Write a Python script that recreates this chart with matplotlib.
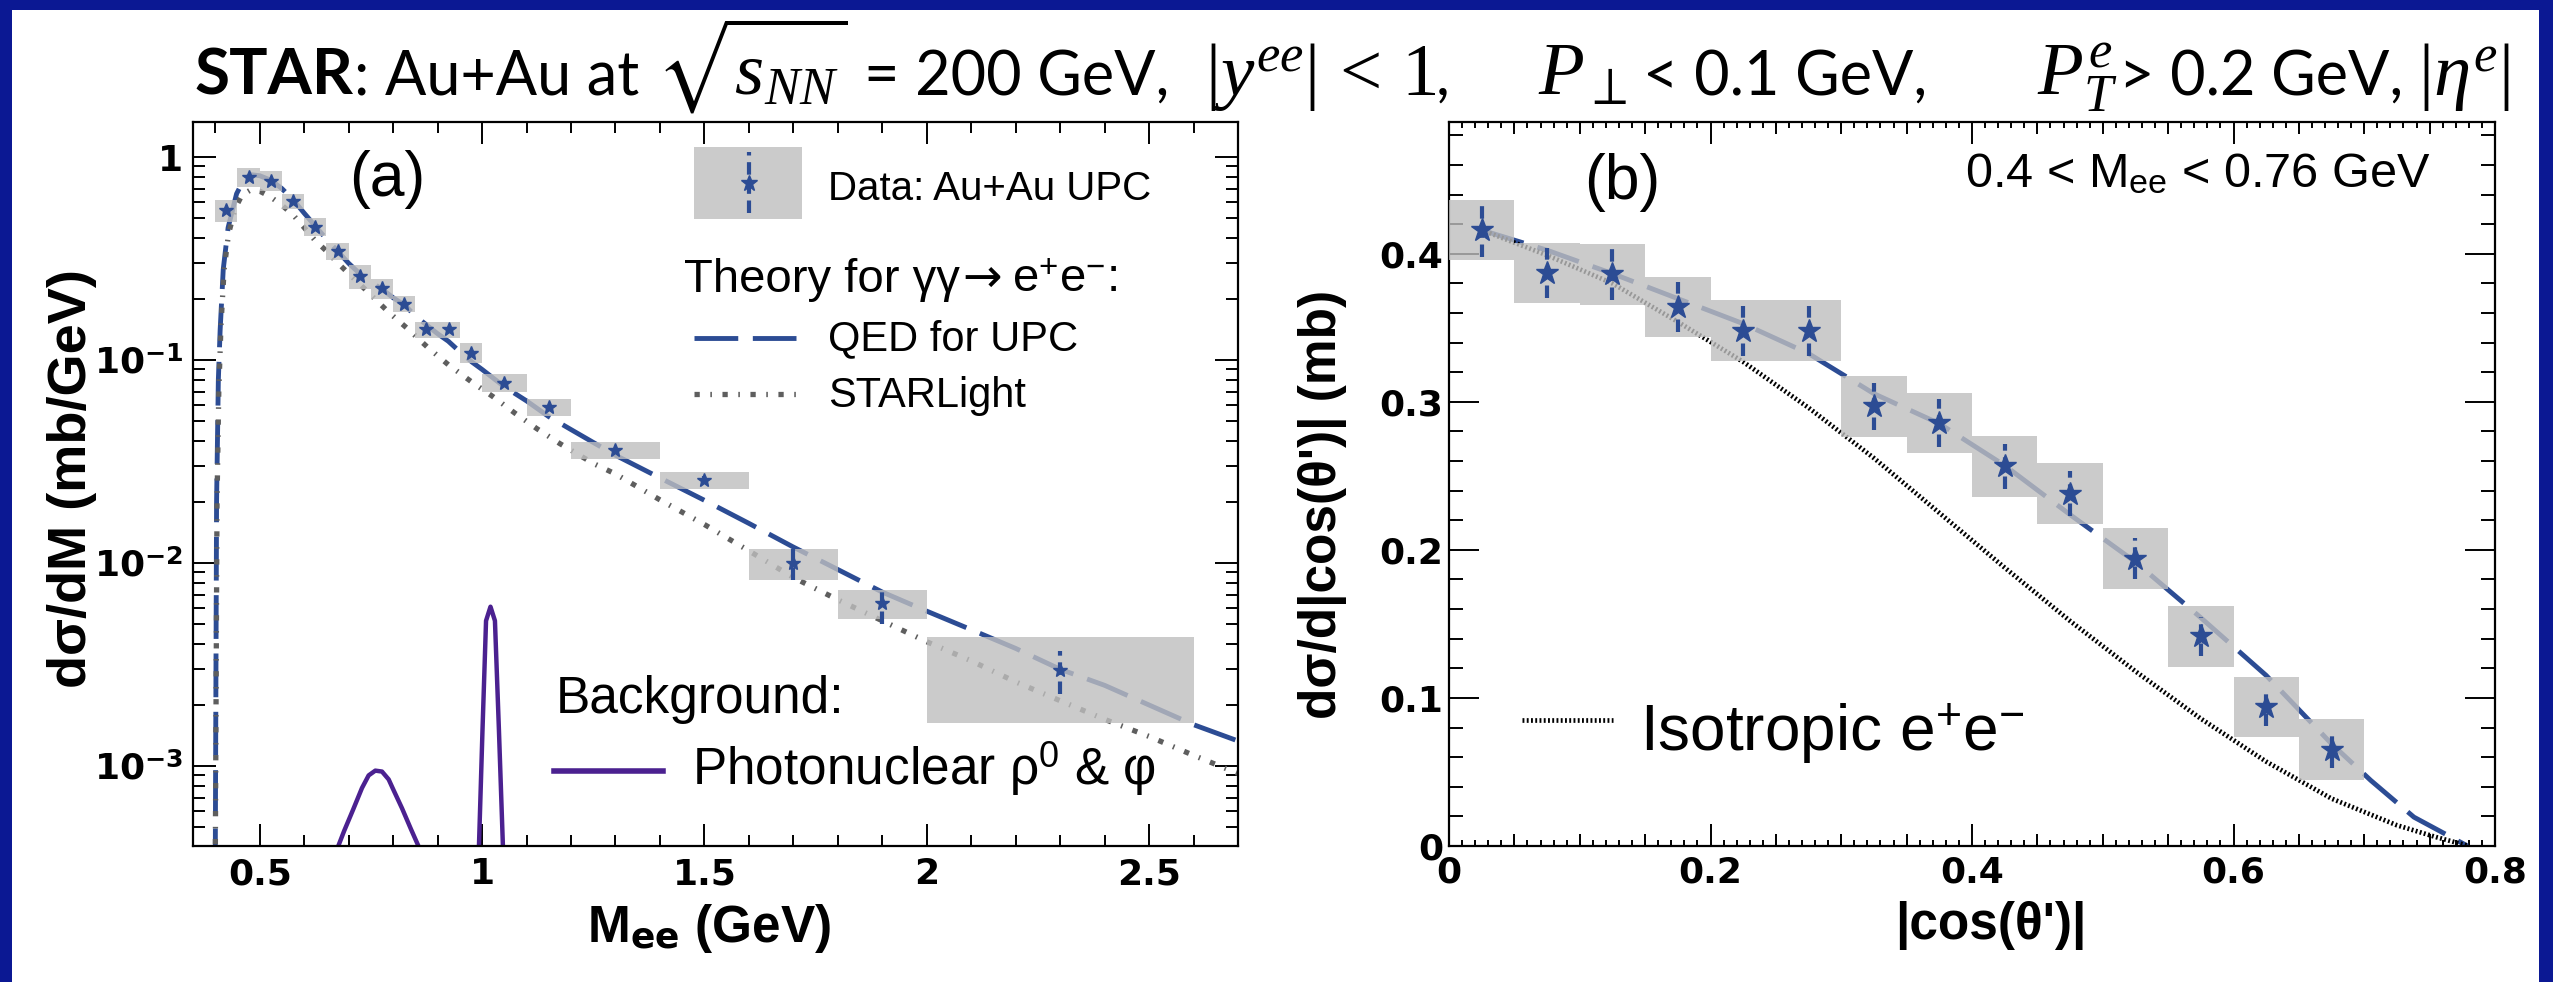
import matplotlib
matplotlib.use("Agg")
import matplotlib.pyplot as plt
from matplotlib.patches import Rectangle
from matplotlib.ticker import MultipleLocator, LogLocator, NullFormatter

plt.rcParams['mathtext.fontset'] = 'custom'
plt.rcParams['mathtext.rm'] = 'Liberation Serif'
plt.rcParams['mathtext.it'] = 'Liberation Serif:italic'
plt.rcParams['mathtext.bf'] = 'DejaVu Sans:bold'
plt.rcParams['mathtext.sf'] = 'Liberation Sans'
plt.rcParams['mathtext.fallback'] = 'stix'

# ---- panel (a): dsigma/dM ----
a_m = [0.425, 0.475, 0.525, 0.575, 0.625, 0.675, 0.725, 0.775, 0.825, 0.875,
       0.925, 0.975, 1.05, 1.15, 1.3, 1.5, 1.7, 1.9, 2.3]
a_val = [0.548, 0.80, 0.764, 0.607, 0.454, 0.346, 0.259, 0.226, 0.190, 0.142,
         0.142, 0.109, 0.0775, 0.0589, 0.0359, 0.0256, 0.0100, 0.00633, 0.00297]
a_bin_lo = [0.40, 0.45, 0.50, 0.55, 0.60, 0.65, 0.70, 0.75, 0.80, 0.85,
            0.90, 0.95, 1.0, 1.1, 1.2, 1.4, 1.6, 1.8, 2.0]
a_bin_hi = [0.45, 0.50, 0.55, 0.60, 0.65, 0.70, 0.75, 0.80, 0.85, 0.90,
            0.95, 1.0, 1.1, 1.2, 1.4, 1.6, 1.8, 2.0, 2.6]
a_sys = [0.069, 0.088, 0.086, 0.051, 0.047, 0.033, 0.035, 0.025, 0.018, 0.013,
         0.013, 0.0125, 0.008, 0.0057, 0.0035, 0.0024, 0.00175, 0.00105, 0.00134]
a_stat = [0.015, 0.02, 0.02, 0.015, 0.012, 0.009, 0.007, 0.006, 0.005, 0.004,
          0.004, 0.003, 0.002, 0.0015, 0.001, 0.0012, 0.0017, 0.0013, 0.0007]

qed_m = [0.400, 0.403, 0.407, 0.411, 0.418, 0.429, 0.448, 0.465, 0.480, 0.50,
         0.525, 0.55, 0.577, 0.60, 0.626, 0.65, 0.675, 0.70, 0.7255, 0.75,
         0.777, 0.80, 0.827, 0.85, 0.877, 0.90, 0.924, 0.95, 0.977, 1.0,
         1.05, 1.1, 1.15, 1.2, 1.3, 1.4, 1.5, 1.6, 1.7, 1.8,
         1.9, 2.0, 2.1, 2.2, 2.3, 2.4, 2.5, 2.6, 2.7]
qed_v = [3.0e-4, 0.02, 0.08, 0.14, 0.28, 0.45, 0.66, 0.78, 0.82, 0.81,
         0.77, 0.70, 0.61, 0.53, 0.455, 0.395, 0.345, 0.30, 0.266, 0.243,
         0.222, 0.203, 0.186, 0.165, 0.148, 0.135, 0.124, 0.110, 0.098, 0.090,
         0.074, 0.063, 0.0527, 0.0455, 0.034, 0.0263, 0.0204, 0.0157, 0.0120, 0.0093,
         0.0072, 0.0058, 0.0047, 0.0038, 0.0030, 0.0025, 0.0020, 0.0016, 0.00133]

sl_m = [0.400, 0.404, 0.408, 0.413, 0.42, 0.43, 0.445, 0.46, 0.48, 0.50,
        0.523, 0.55, 0.5756, 0.60, 0.624, 0.65, 0.673, 0.70, 0.744, 0.789,
        0.834, 0.877, 0.924, 0.977, 1.025, 1.074, 1.123, 1.175, 1.25, 1.3,
        1.4, 1.5, 1.6, 1.7, 1.8, 1.9, 2.0, 2.1, 2.2, 2.3,
        2.4, 2.5, 2.6, 2.7]
sl_v = [3.0e-4, 0.02, 0.07, 0.15, 0.28, 0.42, 0.56, 0.65, 0.69, 0.68,
        0.64, 0.58, 0.518, 0.45, 0.39, 0.345, 0.305, 0.267, 0.216, 0.173,
        0.142, 0.116, 0.095, 0.078, 0.066, 0.0548, 0.046, 0.0388, 0.031, 0.0275,
        0.0205, 0.0155, 0.0115, 0.0085, 0.0066, 0.0052, 0.0041, 0.0033, 0.0026, 0.0021,
        0.0017, 0.0014, 0.00113, 0.00092]

rho_m = [0.67, 0.69, 0.71, 0.73, 0.745, 0.76, 0.775, 0.79, 0.80, 0.82, 0.84, 0.86]
rho_v = [3.7e-4, 4.8e-4, 6.1e-4, 7.8e-4, 9.0e-4, 9.5e-4, 9.4e-4, 8.6e-4, 7.7e-4, 6.2e-4, 4.9e-4, 3.9e-4]
phi_m = [0.990, 0.993, 1.001, 1.009, 1.019, 1.029, 1.038, 1.047, 1.050]
phi_v = [3.0e-4, 4.0e-4, 1.5e-3, 5.2e-3, 6.1e-3, 5.2e-3, 1.5e-3, 4.0e-4, 3.0e-4]

# ---- panel (b): dsigma/d|cos theta'| ----
b_x = [0.025, 0.075, 0.125, 0.175, 0.225, 0.275, 0.325, 0.375, 0.425, 0.475,
       0.525, 0.575, 0.625, 0.675]
b_val = [0.416, 0.387, 0.386, 0.364, 0.348, 0.348, 0.297, 0.2857, 0.2564, 0.238,
         0.194, 0.1416, 0.0938, 0.065]
b_sys = [0.0205] * 14
b_stat = [0.018, 0.017, 0.017, 0.017, 0.017, 0.017, 0.016, 0.016, 0.015, 0.015,
          0.014, 0.013, 0.013, 0.012]

bqed_x = [0.025, 0.075, 0.125, 0.175, 0.225, 0.275, 0.325, 0.375, 0.425, 0.475,
          0.525, 0.575, 0.625, 0.675, 0.705, 0.738, 0.779]
bqed_v = [0.416, 0.4024, 0.3866, 0.3697, 0.3528, 0.3326, 0.3055, 0.2853, 0.257, 0.2238,
          0.1918, 0.1542, 0.1152, 0.069, 0.0443, 0.0195, 0.0]

iso_x = [0.025, 0.075, 0.125, 0.175, 0.225, 0.275, 0.325, 0.375, 0.425, 0.475,
         0.525, 0.575, 0.625, 0.675, 0.725, 0.755, 0.78]
iso_v = [0.416, 0.399, 0.380, 0.354, 0.327, 0.296, 0.262, 0.225, 0.188, 0.152,
         0.118, 0.086, 0.057, 0.032, 0.014, 0.006, 0.0]

BLUE = '#2c4c94'
GRAY_BOX = '#bfbfbf'
SL_GRAY = '#5e5e5e'
PURPLE = '#4b2190'
FRAME = '#0b1893'
W, H = 2553, 982

fig = plt.figure(figsize=(W / 100, H / 100), dpi=100, facecolor=FRAME)
fig.patches.append(Rectangle((12 / W, 0), (2539 - 12) / W, (H - 10) / H,
                             transform=fig.transFigure, facecolor='white',
                             edgecolor='none', zorder=-5))

ax_a = fig.add_axes([193 / W, 136 / H, 1045 / W, 724 / H])
ax_b = fig.add_axes([1449 / W, 136 / H, 1046 / W, 724 / H])
renderer = fig.canvas.get_renderer()

SANS = ['Liberation Sans', 'DejaVu Sans']
TICKFONT = dict(fontsize=26, fontweight='bold', family='DejaVu Sans')
QED_LS = (0, (9, 3))
SL_LS = (0, (1.0, 2.0, 0.3, 2.0))
ISO_LS = (0, (0.4, 0.5))
ERR_LS = (0, (3, 1.6))


def chain_text(parts, x_px, y_frac):
    # place text pieces one after the other on a common baseline
    for s, props, gap in parts:
        t = fig.text((x_px + gap) / W, y_frac, s, va='baseline', **props)
        x_px = t.get_window_extent(renderer=renderer).x1


def draw_data(ax, x, val, lo, hi, sys, stat, ms):
    for xl, xh, v, s in zip(lo, hi, val, sys):
        ax.add_patch(Rectangle((xl, v - s), xh - xl, 2 * s, facecolor=GRAY_BOX,
                               alpha=0.8, edgecolor='none', zorder=3))
    eb = ax.errorbar(x, val, yerr=stat, fmt='*', ms=ms, color=BLUE, ecolor=BLUE,
                     mec=BLUE, elinewidth=3, capsize=0, zorder=5)
    eb[2][0].set_linestyle(ERR_LS)


# ---------------- panel (a) ----------------
ax = ax_a
ax.set_yscale('log')
ax.plot(qed_m, qed_v, color=BLUE, lw=3.5, ls=QED_LS, zorder=2)
ax.plot(sl_m, sl_v, color=SL_GRAY, lw=3.8, ls=SL_LS, zorder=2)
ax.plot(rho_m, rho_v, color=PURPLE, lw=3.2, zorder=2)
ax.plot(phi_m, phi_v, color=PURPLE, lw=3.2, zorder=2)
draw_data(ax, a_m, a_val, a_bin_lo, a_bin_hi, a_sys, a_stat, 10.5)

ax.set_xlim(0.35, 2.7)
ax.set_ylim(4.04e-4, 1.49)
ax.set_xticks([0.5, 1, 1.5, 2, 2.5], labels=['0.5', '1', '1.5', '2', '2.5'], **TICKFONT)
ax.xaxis.set_minor_locator(MultipleLocator(0.1))
ax.set_yticks([1e-3, 1e-2, 1e-1, 1],
              labels=[r'10$^{\mathbf{-3}}$', r'10$^{\mathbf{-2}}$', r'10$^{\mathbf{-1}}$', '1'],
              **TICKFONT)
ax.yaxis.set_minor_locator(LogLocator(base=10, subs=[2, 3, 4, 5, 6, 7, 8, 9]))
ax.yaxis.set_minor_formatter(NullFormatter())
ax.tick_params(which='both', direction='in', top=True, right=True, width=1.4)
ax.tick_params(axis='x', which='major', length=16, pad=8)
ax.tick_params(axis='x', which='minor', length=8)
ax.tick_params(axis='y', which='major', length=16.5, pad=7)
ax.tick_params(axis='y', which='minor', length=8.6)

ax.text(0.494, -0.1326, r'M$_{\mathbf{ee}}$ (GeV)', transform=ax.transAxes, ha='center',
        va='baseline', fontsize=37, fontweight='bold', family=SANS)
ax.text(-0.1158, 0.508, 'dσ/dM (mb/GeV)', transform=ax.transAxes, ha='center',
        va='center', rotation=90, fontsize=39, fontweight='bold', family=SANS)

ax.text(0.1856, 0.8978, '(a)', transform=ax.transAxes, ha='center', va='baseline',
        fontsize=45, family=SANS)
# legend for data
ax.add_patch(Rectangle((0.479, 0.866), 0.104, 0.0995, transform=ax.transAxes,
                       facecolor=GRAY_BOX, alpha=0.8, edgecolor='none', zorder=3))
ax.plot([0.532, 0.532], [0.8743, 0.9586], transform=ax.transAxes, color=BLUE, lw=3,
        ls=ERR_LS, zorder=5)
ax.plot([0.532], [0.9157], transform=ax.transAxes, marker='*', ms=12, color=BLUE, zorder=6)
ax.text(0.6077, 0.8918, 'Data: Au+Au UPC', transform=ax.transAxes, va='baseline',
        fontsize=29, family=SANS)
LEG = dict(fontsize=34, family='Liberation Sans')
chain_text([('Theory for γγ', LEG, 0),
            ('→', dict(fontsize=34, family='DejaVu Sans'), 2),
            (r'e$^{\mathsf{+}}$e$^{\mathsf{-}}$:', LEG, 10)],
           193 + 0.4699 * 1045, (136 + 0.7656 * 724) / H)
ax.plot([0.479, 0.577], [0.7017, 0.7017], transform=ax.transAxes, color=BLUE, lw=3.5,
        ls=QED_LS)
ax.text(0.6077, 0.685, 'QED for UPC', transform=ax.transAxes, va='baseline',
        fontsize=30, family=SANS)
ax.plot([0.479, 0.577], [0.6243, 0.6243], transform=ax.transAxes, color=SL_GRAY, lw=3.8,
        ls=SL_LS)
ax.text(0.6077, 0.6068, 'STARLight', transform=ax.transAxes, va='baseline',
        fontsize=30, family=SANS)
ax.text(0.3474, 0.1833, 'Background:', transform=ax.transAxes, va='baseline',
        fontsize=37, family=SANS)
ax.plot([0.3455, 0.4498], [0.104, 0.104], transform=ax.transAxes, color=PURPLE, lw=4)
ax.text(0.4775, 0.0843, r'Photonuclear ρ$^{\mathsf{0}}$ & φ', transform=ax.transAxes,
        va='baseline', fontsize=37, family=SANS)

# ---------------- panel (b) ----------------
ax = ax_b
ax.plot(bqed_x, bqed_v, color=BLUE, lw=3.5, ls=QED_LS, zorder=2)
ax.plot(iso_x, iso_v, color='black', lw=3.4, ls=ISO_LS, zorder=2)
draw_data(ax, b_x, b_val, [x - 0.025 for x in b_x], [x + 0.025 for x in b_x],
          b_sys, b_stat, 17)
ax.set_xlim(0, 0.8)
ax.set_ylim(0, 0.489)
ax.set_xticks([0, 0.2, 0.4, 0.6, 0.8], labels=['0', '0.2', '0.4', '0.6', '0.8'], **TICKFONT)
ax.xaxis.set_minor_locator(MultipleLocator(0.01))
ax.set_yticks([0, 0.1, 0.2, 0.3, 0.4], labels=['0', '0.1', '0.2', '0.3', '0.4'], **TICKFONT)
ax.yaxis.set_minor_locator(MultipleLocator(0.02))
ax.tick_params(which='both', direction='in', top=True, right=True, width=1.4)
ax.tick_params(axis='x', which='major', length=16, pad=7)
ax.tick_params(axis='x', which='minor', length=4.3)
ax.tick_params(axis='y', which='major', length=21.6, pad=4)
ax.tick_params(axis='y', which='minor', length=10)
for loc in ('bottom', 'top'):
    sec = ax.secondary_xaxis(loc)
    sec.set_xticks([0.05, 0.1, 0.15, 0.25, 0.3, 0.35, 0.45, 0.5, 0.55, 0.65, 0.7, 0.75])
    sec.tick_params(direction='in', length=8.6, width=1.4, labelbottom=False, labeltop=False)
    sec.spines[loc].set_visible(False)

ax.text(0.518, -0.128, "|cos(θ')|", transform=ax.transAxes, ha='center', va='baseline',
        fontsize=37, fontweight='bold', family=SANS)
ax.text(-0.1205, 0.4724, "dσ/d|cos(θ')| (mb)", transform=ax.transAxes, ha='center',
        va='center', rotation=90, fontsize=37, fontweight='bold', family=SANS)
ax.text(0.1654, 0.8936, '(b)', transform=ax.transAxes, ha='center', va='baseline',
        fontsize=45, family=SANS)
ax.text(0.9388, 0.9098, r'0.4 < M$_{\mathsf{ee}}$ < 0.76 GeV', transform=ax.transAxes,
        ha='right', va='baseline', fontsize=35, family=SANS)
ax.plot([0.0698, 0.1568], [0.174, 0.174], transform=ax.transAxes, color='black', lw=3.4,
        ls=ISO_LS)
ax.text(0.1826, 0.1326, r'Isotropic e$^{\mathsf{+}}$e$^{\mathsf{-}}$', transform=ax.transAxes,
        va='baseline', fontsize=46, family=SANS)

for a in (ax_a, ax_b):
    for s in a.spines.values():
        s.set_linewidth(1.6)

# ---------------- title ----------------
TXT = dict(fontsize=44, family='Lato')
MATH = dict(fontsize=54)
chain_text([
    ('STAR', dict(fontsize=46, family='Lato', fontweight='bold'), 0),
    (': Au+Au at', TXT, 0),
    (r'$\sqrt{s_{NN}}$', MATH, 17),
    ('= 200 GeV,', TXT, 17),
    (r'$|y^{ee}|\,<\,1$', MATH, 35),
    (',', TXT, 0),
    (r'$P_{\perp}$', MATH, 88),
    ('< 0.1 GeV,', TXT, 15),
    (r'$P_{T}^{e}$', MATH, 110),
    ('> 0.2 GeV,', TXT, 2),
    (r'$|\eta^{e}|$', MATH, 14),
], 195, 0.9033)

fig.savefig('out.png', dpi=100, facecolor=fig.get_facecolor())
